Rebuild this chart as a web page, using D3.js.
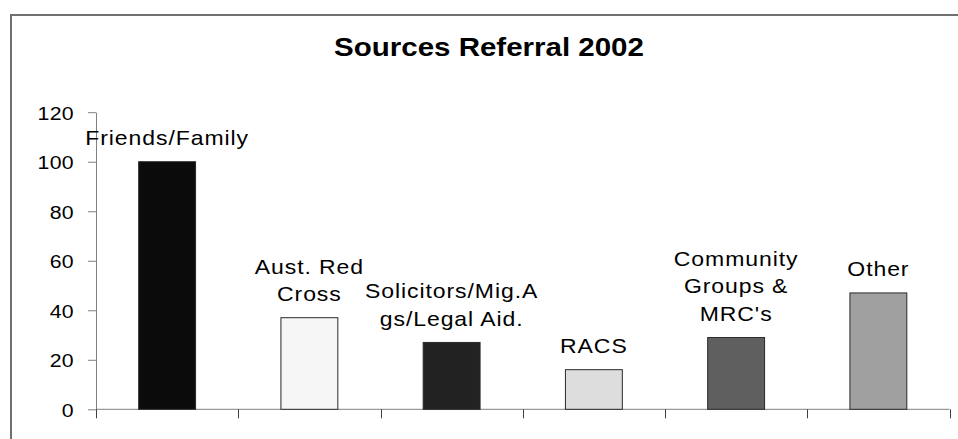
<!DOCTYPE html>
<html>
<head>
<meta charset="utf-8">
<script src="https://cdn.jsdelivr.net/npm/d3@7"></script>
<style>
body { margin: 0; background: #fff; }
svg { display: block; font-family: "Liberation Sans", Arial, sans-serif; }
</style>
</head>
<body>
<div id="chart"></div>
<script>
//////////////////////////////////////////////////////////////////////////////
// Data

var categories = ["Friends/Family", "Aust. Red Cross", "Solicitors/Mig.Ags/Legal Aid.",
                  "RACS", "Community Groups & MRC's", "Other"];
var labelLines = [["Friends/Family"], ["Aust. Red", "Cross"], ["Solicitors/Mig.A", "gs/Legal Aid."],
                  ["RACS"], ["Community", "Groups &", "MRC's"], ["Other"]];
var values = [100, 37, 27, 16, 29, 47];
var barColors = ["#0b0b0b", "#f6f6f6", "#222222", "#dddddd", "#5f5f5f", "#a0a0a0"];
var yTicks = [0, 20, 40, 60, 80, 100, 120];
var title = "Sources Referral 2002";

//////////////////////////////////////////////////////////////////////////////
// Setup

var width = 958, height = 439;

var svg = d3.select("#chart")
    .append("svg")
    .attr("width", width)
    .attr("height", height);

// outer frame (only top and left edges are visible)
svg.append("path")
    .attr("d", "M11,440 V15 H960")
    .attr("fill", "none")
    .attr("stroke", "#707070")
    .attr("stroke-width", 2);

svg.append("text")
    .attr("transform", "translate(489,56) scale(1.18,1)")
    .attr("text-anchor", "middle")
    .attr("font-size", "25px")
    .attr("font-weight", "bold")
    .text(title);

var xScale = d3.scaleBand().domain(categories).range([96, 949.5]).padding(0);
var yScale = d3.scaleLinear().domain([0, 120]).range([409.3, 112.2]);

var barW = xScale.bandwidth() * 0.4;

//////////////////////////////////////////////////////////////////////////////
// Axes

var yAxis = svg.append("g")
    .attr("transform", "translate(96,0)")
    .call(d3.axisLeft(yScale).tickValues(yTicks).tickSize(8).tickSizeOuter(0));

yAxis.select(".domain").attr("stroke", "#808080");
yAxis.selectAll(".tick line").attr("stroke", "#808080");
yAxis.selectAll(".tick text")
    .attr("x", 0)
    .attr("dy", "0.36em")
    .attr("transform", "translate(-22,0) scale(1.12,1)")
    .attr("font-size", "19px")
    .attr("font-family", "\"Liberation Sans\", Arial, sans-serif")
    .attr("letter-spacing", "0.3px")
    .attr("fill", "#000");

var xAxis = svg.append("g");

xAxis.append("line")
    .attr("x1", xScale.range()[0])
    .attr("x2", xScale.range()[1])
    .attr("y1", yScale(0))
    .attr("y2", yScale(0))
    .attr("stroke", "#808080");

var edges = categories.map(function(c) { return xScale(c); }).concat([xScale.range()[1]]);

xAxis.selectAll("line.edge")
    .data(edges)
    .enter()
    .append("line")
    .attr("class", "edge")
    .attr("x1", function(d) { return Math.round(d) + 0.5; })
    .attr("x2", function(d) { return Math.round(d) + 0.5; })
    .attr("y1", yScale(0))
    .attr("y2", yScale(0) + 9)
    .attr("stroke", "#404040");

//////////////////////////////////////////////////////////////////////////////
// Bars and labels

var data = categories.map(function(c, i) {
    return { cat: c, value: values[i], color: barColors[i], lines: labelLines[i] };
});

svg.append("g")
    .selectAll("rect")
    .data(data)
    .enter()
    .append("rect")
    .attr("x", function(d) { return xScale(d.cat) + (xScale.bandwidth() - barW) / 2; })
    .attr("y", function(d) { return yScale(d.value); })
    .attr("width", barW)
    .attr("height", function(d) { return yScale(0) - yScale(d.value); })
    .attr("fill", function(d) { return d.color; })
    .attr("stroke", "#2a2a2a")
    .attr("stroke-width", 1);

var lineH = 27.5;

var labels = svg.append("g")
    .selectAll("text")
    .data(data)
    .enter()
    .append("text")
    .attr("transform", function(d) {
        var cx = xScale(d.cat) + xScale.bandwidth() / 2;
        var y = yScale(d.value) - 16.5 - (d.lines.length - 1) * lineH;
        return "translate(" + cx + "," + y + ") scale(1.15,1)";
    })
    .attr("text-anchor", "middle")
    .attr("font-size", "20px")
    .attr("letter-spacing", "0.8px")
    .attr("fill", "#000");

labels.selectAll("tspan")
    .data(function(d) { return d.lines; })
    .enter()
    .append("tspan")
    .attr("x", 0)
    .attr("y", function(d, i) { return i * lineH; })
    .text(function(d) { return d; });
</script>
</body>
</html>
